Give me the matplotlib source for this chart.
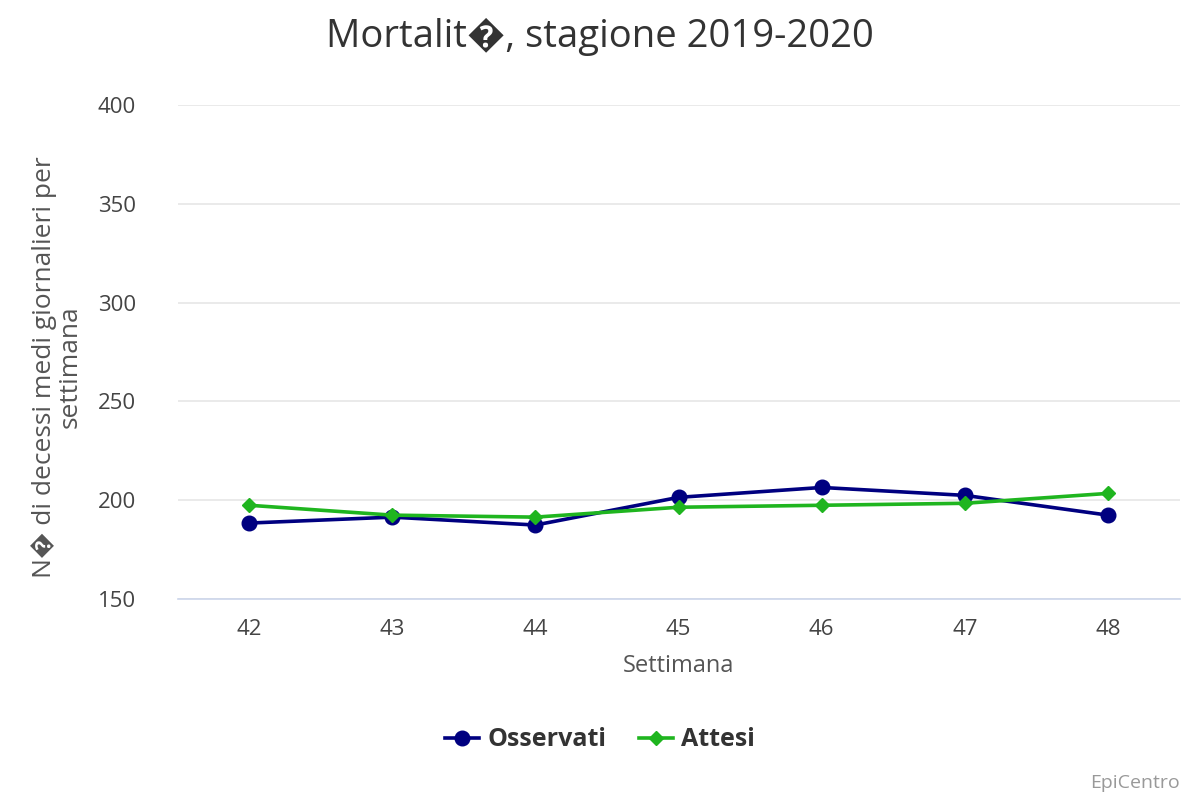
import matplotlib
matplotlib.use('Agg')
import matplotlib.pyplot as plt

plt.rcParams['font.family'] = ['Open Sans', 'DejaVu Sans']

weeks = ['42', '43', '44', '45', '46', '47', '48']
osservati = [188.5, 191.5, 187.5, 201.5, 206.5, 202.5, 192.5]
attesi = [197.5, 192.5, 191.5, 196.5, 197.5, 198.5, 203.5]

fig = plt.figure(figsize=(12, 8), dpi=100)
ax = fig.add_axes([0.148, 0.251, 0.835, 0.618])

x = range(len(weeks))
ax.plot(x, osservati, color='#000080', lw=2.6, marker='o', markersize=10.5, label='Osservati', zorder=3)
ax.plot(x, attesi, color='#1fb51f', lw=2.6, marker='D', markersize=7, label='Attesi', zorder=3)

ax.set_xlim(-0.5, len(weeks) - 0.5)
ax.set_ylim(150, 400)
ax.set_yticks([150, 200, 250, 300, 350, 400])
ax.set_xticks(list(x))
ax.set_xticklabels(weeks)
ax.grid(axis='y', color='#e6e6e6', lw=1.2)
ax.set_axisbelow(True)
for s in ['top', 'right', 'left']:
    ax.spines[s].set_visible(False)
ax.spines['bottom'].set_color('#ccd6eb')
ax.spines['bottom'].set_linewidth(1.2)
ax.tick_params(axis='both', length=0, labelsize=16, colors='#444444', pad=14)
ax.tick_params(axis='y', pad=30)

ax.set_xlabel('Settimana', fontsize=17, color='#555555', labelpad=10)
ax.set_ylabel('N\ufffd di decessi medi giornalieri per\nsettimana', fontsize=19,
              color='#555555', labelpad=14, linespacing=1.0)
ax.yaxis.set_label_coords(-0.095, 0.47)

fig.suptitle('Mortalit\ufffd, stagione 2019-2020', fontsize=27.5, color='#333333', y=0.978)

leg = fig.legend(loc='center', bbox_to_anchor=(0.5, 0.075), ncol=2, frameon=False,
                 prop={'size': 18, 'weight': 'bold'}, handlelength=1.35, columnspacing=1.3,
                 handletextpad=0.35)
for t in leg.get_texts():
    t.set_color('#333333')

fig.text(0.983, 0.021, 'EpiCentro', ha='right', va='center', fontsize=14, color='#999999')

fig.savefig('out.png', dpi=100)
